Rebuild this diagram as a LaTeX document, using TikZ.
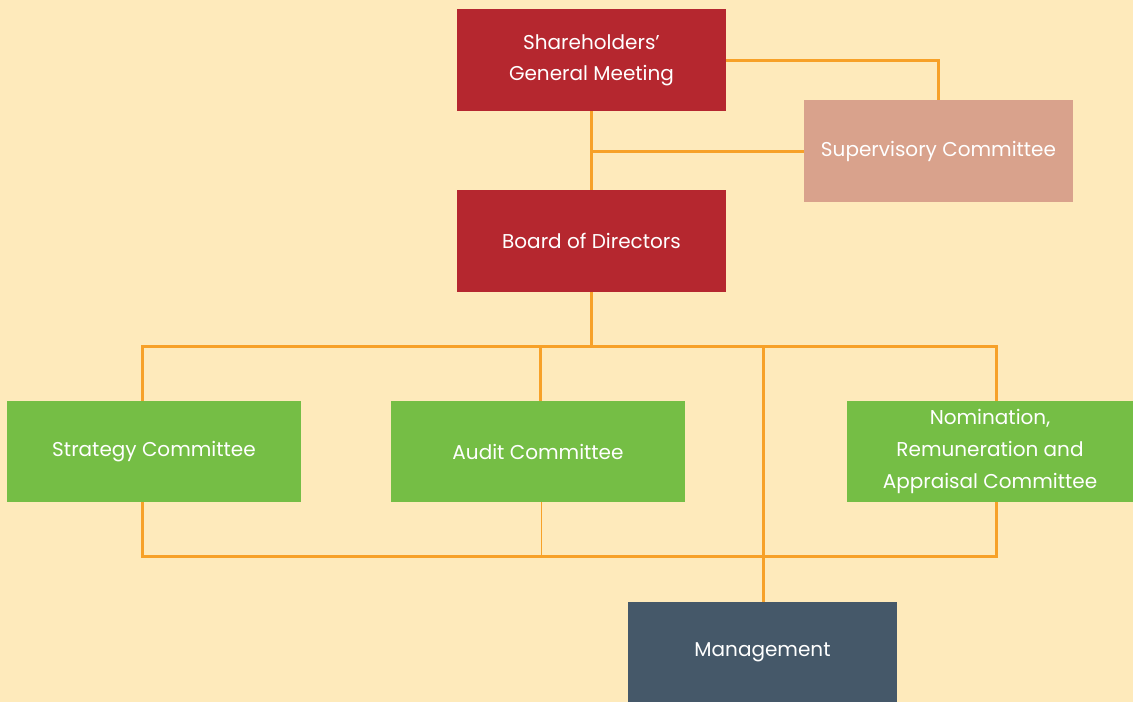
\documentclass[tikz,border=0pt]{standalone}
\usepackage{fontspec}
\setmainfont{Poppins}
\definecolor{bg}{RGB}{254,234,187}
\definecolor{redbox}{RGB}{181,39,47}
\definecolor{salmon}{RGB}{217,162,140}
\definecolor{greenbox}{RGB}{117,190,69}
\definecolor{slate}{RGB}{69,88,105}
\definecolor{wire}{RGB}{247,161,40}
\begin{document}
\begin{tikzpicture}[x=1pt,y=-1pt,
  box/.style={rectangle,inner sep=0pt,text=white,align=center,font=\fontsize{20}{31}\selectfont},
  wirel/.style={draw=wire,line width=3pt},
  thinwire/.style={draw=wire,line width=1pt}]
\fill[bg] (0,0) rectangle (1133,702);
\useasboundingbox (0,0) rectangle (1133,702);
\node[box,fill=redbox,minimum width=269pt,minimum height=102pt] (sgm) at (591.5,60) {Shareholders'\\General Meeting};
\node[box,fill=salmon,minimum width=269pt,minimum height=102pt] (sup) at (938.5,151) {Supervisory Committee};
\node[box,fill=redbox,minimum width=269pt,minimum height=102pt] (bod) at (591.5,241) {Board of Directors};
\node[box,fill=greenbox,minimum width=294pt,minimum height=101pt] (str) at (154,451.5) {Strategy Committee};
\node[box,fill=greenbox,minimum width=294pt,minimum height=101pt] (aud) at (538,451.5) {Audit Committee};
\node[box,fill=greenbox,minimum width=286pt,minimum height=101pt,font=\fontsize{20}{32}\selectfont] (nom) at (990,451.5) {Nomination,\\Remuneration and\\Appraisal Committee};
\node[box,fill=slate,minimum width=269pt,minimum height=100pt] (man) at (762.5,652) {Management};
\coordinate (busL) at (142,346);
\coordinate (busR) at (996,346);
\coordinate (busA) at (540,346);
\coordinate (busM) at (763,346);
\coordinate (botL) at (142,556);
\coordinate (botR) at (996,556);
\coordinate (botA) at (541.5,556);
\draw[wirel] (sgm.east) -| (sup.north);
\draw[wirel] (sgm.south) -- (bod.north);
\draw[wirel] (sup.west) -- (sgm.south |- sup.west);
\draw[wirel] (bod.south) -- (bod.south |- busL);
\draw[wirel] (busL |- str.north) -- (busL) -- (busR) -- (busR |- nom.north);
\draw[wirel] (busA) -- (busA |- aud.north);
\draw[wirel] (busM) -- (busM |- man.north);
\draw[wirel] (botL |- str.south) -- (botL) -- (botR) -- (botR |- nom.south);
\draw[thinwire] (botA |- aud.south) -- (botA);
\end{tikzpicture}
\end{document}
